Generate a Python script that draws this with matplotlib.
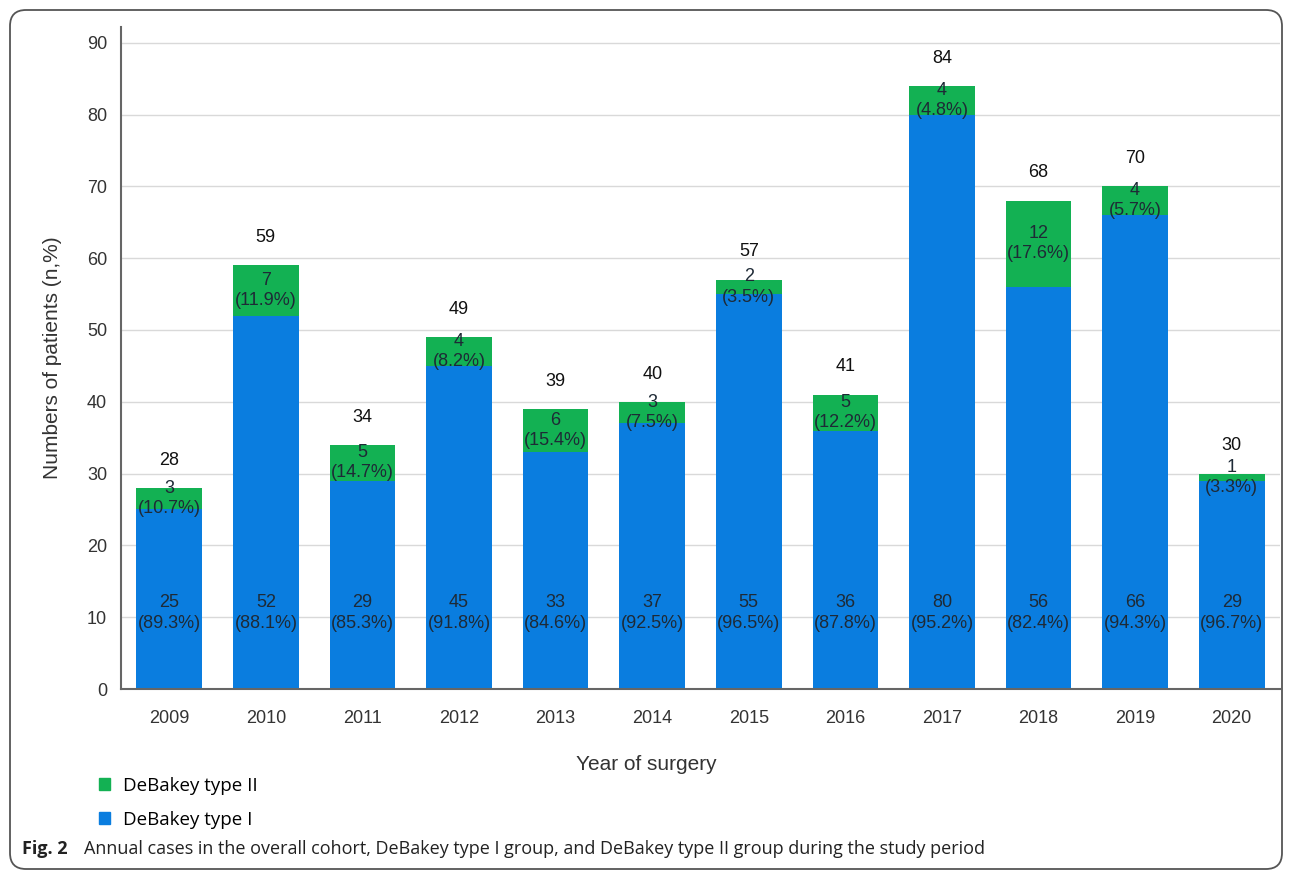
import matplotlib
matplotlib.use("Agg")
import matplotlib.pyplot as plt
from matplotlib.patches import Patch, FancyBboxPatch
from matplotlib.transforms import IdentityTransform

years = ["2009", "2010", "2011", "2012", "2013", "2014",
         "2015", "2016", "2017", "2018", "2019", "2020"]
type1 = [25, 52, 29, 45, 33, 37, 55, 36, 80, 56, 66, 29]
type2 = [3, 7, 5, 4, 6, 3, 2, 5, 4, 12, 4, 1]

blue = "#0a7ddf"
green = "#13b153"
inner_txt = "#1e2a36"

plt.rcParams["font.family"] = ["Liberation Sans", "DejaVu Sans"]

fig = plt.figure(figsize=(12.92, 8.71), dpi=100)
ax = fig.add_axes([121 / 1292, 1 - 689 / 871, (1280 - 121) / 1292, (689 - 27) / 871])

x = list(range(len(years)))
totals = [a + b for a, b in zip(type1, type2)]

ax.bar(x, type1, width=0.68, color=blue, zorder=2)
ax.bar(x, type2, width=0.68, bottom=type1, color=green, zorder=2)

for i in x:
    t = totals[i]
    # type I labels sit at a fixed height inside the blue part
    ax.text(i, 10.6, f"{type1[i]}\n({type1[i] / t * 100:.1f}%)", ha="center", va="center",
            fontsize=13, color=inner_txt, linespacing=1.25, zorder=3)
    ax.text(i, type1[i] + type2[i] / 2, f"{type2[i]}\n({type2[i] / t * 100:.1f}%)", ha="center",
            va="center", fontsize=13, color=inner_txt, linespacing=1.25, zorder=3)
    ax.annotate(str(t), (i, t), xytext=(0, 20), textcoords="offset points",
                ha="center", va="center", fontsize=13, color="#111111")

ax.set_xlim(-0.5, 11.5)
ax.set_ylim(0, 92.2)
ax.set_yticks(range(0, 91, 10))
ax.set_xticks(x)
ax.set_xticklabels(years)
ax.tick_params(axis="both", length=0, labelsize=13, colors="#333333")
ax.tick_params(axis="x", pad=15)
ax.tick_params(axis="y", pad=10)
ax.grid(axis="y", color="#d9d9d9", linewidth=1, zorder=0)
for s in ["top", "right"]:
    ax.spines[s].set_visible(False)
for s in ["left", "bottom"]:
    ax.spines[s].set_color("#666666")
    ax.spines[s].set_linewidth(1.5)
ax.set_ylabel("Numbers of patients (n,%)", fontsize=15, color="#333333", labelpad=18)

fig.text(646 / 1292, 1 - 764 / 871, "Year of surgery", ha="center", va="center",
         fontsize=15, color="#333333")

handles = [Patch(color=green), Patch(color=blue)]
fig.legend(handles, ["DeBakey type II", "DeBakey type I"], loc="upper left",
           bbox_to_anchor=(82 / 1292, 1 - 760 / 871), frameon=False,
           handlelength=0.6, handleheight=0.6, handletextpad=0.7, labelspacing=0.85,
           prop={"family": "Open Sans", "size": 13.5})

fig.text(22 / 1292, 1 - 849 / 871, "Fig. 2", ha="left", va="center", fontsize=13,
         fontweight="bold", family="Open Sans", color="#222222")
fig.text(84 / 1292, 1 - 849 / 871,
         "Annual cases in the overall cohort, DeBakey type I group, and DeBakey type II group during the study period",
         ha="left", va="center", fontsize=13, family="Open Sans", color="#222222")

frame = FancyBboxPatch((10, 2), 1272, 859, boxstyle="round,pad=0,rounding_size=16",
                       transform=IdentityTransform(), fill=False, edgecolor="#555555",
                       linewidth=1.3)
fig.patches.append(frame)

fig.savefig("out.png", dpi=100)
